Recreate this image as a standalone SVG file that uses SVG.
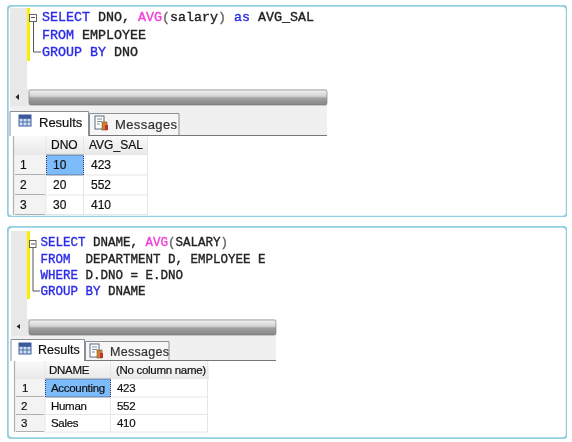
<svg xmlns="http://www.w3.org/2000/svg" width="572" height="442" viewBox="0 0 572 442">
<style>
.panel{fill:#fff;stroke:#93cfe0;stroke-width:2.5}
.gut{fill:#e9e9e9}
.yel{fill:#f7f000}
.fold{fill:none;stroke:#555;stroke-width:1}
.code{font-family:"Liberation Mono",monospace;fill:#222;stroke:#222;stroke-width:.35}
.k{fill:#2a2ae8;stroke:#2a2ae8}.f{fill:#f040d8;stroke:#f040d8}.p{fill:#666;stroke:#666}
.ui{font-family:"Liberation Sans",Arial,sans-serif;fill:#111;stroke:#111;stroke-width:.2}
.tabtxt{fill:#333;stroke:#333}
.strip{fill:#f0f0f0}
.bar{fill:url(#sb)}
.barbg{fill:#e8e8e8}
.tab{fill:#f6f6f6;stroke:#8a8f96;stroke-width:1}
.tabon{fill:#fff;stroke:#8a8f96;stroke-width:1}
.hdr{fill:url(#hg)}
.rowh{fill:#f3f3f3}
.gl{stroke:#e6e6e6;stroke-width:1;fill:none}
.rl{stroke:#b0b0b0;stroke-width:1.2;fill:none}
.sel{fill:#7cbcfb;stroke:#335;stroke-width:1;stroke-dasharray:1 1}
.soft{filter:url(#soft)}
</style>
<defs>
<filter id="soft" x="0" y="0" width="100%" height="100%"><feGaussianBlur stdDeviation="0.35"/></filter>
<linearGradient id="sb" x1="0" y1="0" x2="0" y2="1"><stop offset="0" stop-color="#f2f2f2"/><stop offset=".4" stop-color="#d4d4d4"/><stop offset=".55" stop-color="#a0a0a0"/><stop offset="1" stop-color="#858585"/></linearGradient>
<linearGradient id="hg" x1="0" y1="0" x2="0" y2="1"><stop offset="0" stop-color="#fafafa"/><stop offset="1" stop-color="#e9e9e9"/></linearGradient>
<g id="gridicon"><rect x="0" y="0" width="12" height="11" fill="#cfe0f5" stroke="#3a5a9a"/><path d="M0 3.500H12M0 7H12M4 0V11M8 0V11" stroke="#3a5a9a" stroke-width=".8" fill="none"/><rect x="0" y="0" width="12" height="3" fill="#3a5a9a"/></g>
<g id="msgicon"><rect x="0" y="0" width="9" height="13" fill="#fff" stroke="#5a6a80"/><path d="M2 3H7M2 5.500H7M2 8H5" stroke="#7a8a9a" fill="none"/><rect x="7" y="6" width="5" height="8" fill="#d08030" stroke="#805020" stroke-width=".6"/><rect x="10" y="9" width="3" height="5" fill="#c03030"/></g>
</defs>

<g id="panel-top" class="soft">
<rect class="panel" x="7.500" y="5.500" width="559.500" height="211.500" rx="5"/>
<rect class="gut" x="10" y="8" width="17" height="81"/>
<rect class="yel" x="27" y="8" width="3" height="53"/>
<rect x="29.500" y="14.500" width="7" height="7" fill="#fff" stroke="#666"/>
<path class="fold" d="M31 17.500H35M33.500 22V52H41"/>
<text class="code" font-size="13.330" x="42" y="21"><tspan class="k">SELECT</tspan> DNO, <tspan class="f">AVG</tspan><tspan class="p">(</tspan>salary<tspan class="p">)</tspan> <tspan class="k">as</tspan> AVG_SAL</text>
<text class="code" font-size="13.330" x="42" y="38.500"><tspan class="k">FROM</tspan> EMPLOYEE</text>
<text class="code" font-size="13.330" x="42" y="56"><tspan class="k">GROUP BY</tspan> DNO</text>
<rect class="barbg" x="10" y="89" width="317" height="17"/>
<rect class="bar" x="29" y="90" width="298" height="15" rx="2" stroke="#777" stroke-width=".6"/>
<path d="M19 94V100L15.500 97Z" fill="#222"/>
<rect class="strip" x="10" y="106" width="317" height="29"/>
<path d="M89 135.500H327" stroke="#777"/>
<path class="tabon" d="M10 136V111.500H88.500V136"/>
<use href="#gridicon" x="19" y="115"/>
<text class="ui" font-size="13" x="39" y="127">Results</text>
<path class="tab" d="M89.500 135V113.500H179V135"/>
<use href="#msgicon" x="95" y="116"/>
<text class="ui tabtxt" font-size="13" letter-spacing=".4" x="115" y="129">Messages</text>
<rect class="hdr" x="14" y="136" width="134" height="18"/>
<rect class="rowh" x="14" y="155" width="32" height="60"/>
<path class="gl" d="M46 136V215M83.500 136V215M147.500 136V215M46 175H147M46 195H147M14 154.500H148M46 214.500H147"/>
<path class="rl" d="M15 174.500H45M15 194.500H45M15 214.500H45M13.500 136V215"/>
<rect class="sel" x="46.500" y="155" width="37" height="20"/>
<g class="ui" font-size="12">
<text x="51" y="149">DNO</text><text x="89" y="149">AVG_SAL</text>
<text x="20" y="169">1</text><text x="20" y="189">2</text><text x="20" y="209">3</text>
<text x="53" y="169">10</text><text x="53" y="189">20</text><text x="53" y="209">30</text>
<text x="91" y="169">423</text><text x="91" y="189">552</text><text x="91" y="209">410</text>
</g>
</g>

<g id="panel-bottom" class="soft">
<rect class="panel" x="7.500" y="226.500" width="559.500" height="212" rx="5"/>
<rect class="gut" x="11" y="231" width="16" height="88"/>
<rect class="yel" x="27" y="231" width="3" height="68"/>
<rect x="29.500" y="240.500" width="6.500" height="7" fill="#fff" stroke="#666"/>
<path class="fold" d="M31 244H35M33 248V291H40"/>
<text class="code" font-size="12.500" x="40.500" y="246"><tspan class="k">SELECT</tspan> DNAME, <tspan class="f">AVG</tspan><tspan class="p">(</tspan>SALARY<tspan class="p">)</tspan></text>
<text class="code" font-size="12.500" x="40.500" y="263" xml:space="preserve"><tspan class="k">FROM</tspan>  DEPARTMENT D, EMPLOYEE E</text>
<text class="code" font-size="12.500" x="40.500" y="279"><tspan class="k">WHERE</tspan> D.DNO = E.DNO</text>
<text class="code" font-size="12.500" x="40.500" y="295"><tspan class="k">GROUP BY</tspan> DNAME</text>
<rect class="barbg" x="11" y="319" width="265" height="17"/>
<rect class="bar" x="29" y="320" width="247" height="15" rx="2" stroke="#777" stroke-width=".6"/>
<path d="M20 324V329L16.500 326.500Z" fill="#222"/>
<rect class="strip" x="11" y="336" width="265" height="24"/>
<path d="M85 360.500H276" stroke="#777"/>
<path class="tabon" d="M11 361V339.500H84.500V361"/>
<use href="#gridicon" x="19" y="343"/>
<text class="ui" font-size="12.500" x="38" y="354">Results</text>
<path class="tab" d="M85.500 360V341.500H169V360"/>
<use href="#msgicon" x="90" y="344"/>
<text class="ui tabtxt" font-size="12.500" letter-spacing=".3" x="110" y="356">Messages</text>
<rect class="hdr" x="14" y="361" width="195" height="17"/>
<rect class="rowh" x="15" y="379" width="30" height="53"/>
<path class="gl" d="M45 361V432M110.500 361V432M207.500 361V432M45 397H208M45 414.500H208M15 378.500H209M45 432H208"/>
<path class="rl" d="M16 396.500H44M16 414.500H44M16 431.500H44M14.500 361V432"/>
<rect class="sel" x="45.500" y="379" width="65" height="18"/>
<g class="ui" font-size="11.500" letter-spacing="-.3">
<text x="49" y="374">DNAME</text><text x="116" y="374">(No column name)</text>
<text x="22" y="392">1</text><text x="21" y="410">2</text><text x="21" y="427">3</text>
<text x="51" y="392">Accounting</text><text x="51" y="410">Human</text><text x="51" y="427">Sales</text>
<text x="117" y="392">423</text><text x="117" y="410">552</text><text x="117" y="427">410</text>
</g>
</g>
</svg>
